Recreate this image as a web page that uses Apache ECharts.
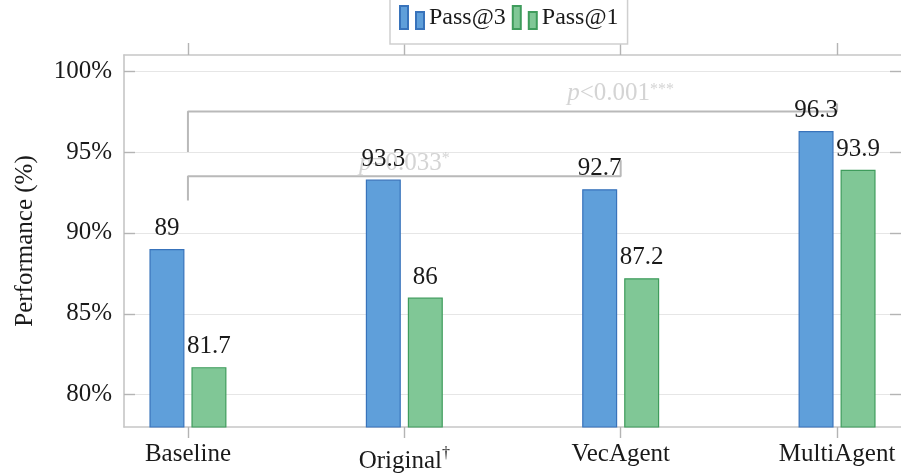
<!DOCTYPE html>
<html>
<head>
<meta charset="utf-8">
<script src="https://cdn.jsdelivr.net/npm/echarts@6/dist/echarts.min.js"></script>
<style>
  html, body { margin: 0; padding: 0; background: #ffffff; }
  #chart { width: 901px; height: 474px; }
</style>
</head>
<body>
<div id="chart"></div>
<script>
// Benchmark results per system
const categories = ['Baseline', 'Original', 'VecAgent', 'MultiAgent'];
const categoryMarks = ['', '†', '', ''];
const pass3 = [89, 93.3, 92.7, 96.3];
const pass1 = [81.7, 86, 87.2, 93.9];
const seriesNames = ['Pass@3', 'Pass@1'];
const yTicks = [80, 85, 90, 95, 100];
const xTicks = [0, 1, 2, 3];

// Significance brackets, as [category index, performance] points
const bracketNear = [[0, 92.0], [0, 93.5], [2, 93.5], [2, 94.5]];
const bracketFar = [[0, 95.0], [0, 97.5], [3, 97.5], [3, 98.0]];
const noteSpots = [[1, 94.3], [2, 98.6]];
const noteRelations = ['=0.033', '<0.001'];
const noteStars = ['*', '***'];

const SERIF = '"Liberation Serif", "DejaVu Serif", serif';
const FRAME = '#c6c6c6';
const TICK = '#b4b4b4';
const BRACKET = '#b9b9b9';

const chart = echarts.init(document.getElementById('chart'), null, { renderer: 'canvas' });

const xRange = { min: -0.2955, max: 3.2955 };

const legendIcon = 'path://M0,0h8v23h-8z M16,6h8v17h-8z';

const barLabel = {
  show: true,
  position: 'top',
  distance: 8,
  fontFamily: SERIF,
  fontSize: 25,
  color: '#1a1a1a',
  formatter: p => String(p.value[1])
};

chart.setOption({
  animation: false,
  backgroundColor: '#ffffff',
  textStyle: { fontFamily: SERIF },
  grid: { left: 124, top: 55, width: 778, height: 372, containLabel: false },
  legend: {
    data: seriesNames,
    left: 390,
    top: -9,
    padding: [14, 9, 14, 9],
    itemWidth: 24,
    itemHeight: 23,
    itemGap: 6,
    icon: legendIcon,
    borderColor: '#cfcfcf',
    borderWidth: 1.5,
    backgroundColor: '#ffffff',
    textStyle: { fontFamily: SERIF, fontSize: 24, color: '#1a1a1a' }
  },
  xAxis: [
    {
      type: 'value',
      position: 'bottom',
      min: xRange.min,
      max: xRange.max,
      axisLine: { show: true, onZero: false, lineStyle: { color: FRAME, width: 1.6 } },
      axisTick: { show: true, inside: false, length: 11, customValues: xTicks, lineStyle: { color: TICK, width: 1.4 } },
      axisLabel: {
        show: true,
        customValues: xTicks,
        margin: 15,
        fontFamily: SERIF,
        fontSize: 25,
        color: '#1a1a1a',
        formatter: v => {
          const i = Math.round(v);
          if (categoryMarks[i]) return '{o|' + categories[i] + '}{d|' + categoryMarks[i] + '}';
          return categories[i];
        },
        rich: {
          o: { fontFamily: SERIF, fontSize: 25, color: '#1a1a1a', padding: [7, 0, 0, 0] },
          d: { fontFamily: SERIF, fontSize: 16, color: '#1a1a1a', verticalAlign: 'top', padding: [4, 0, 0, 0] }
        }
      },
      splitLine: { show: false }
    },
    {
      type: 'value',
      position: 'top',
      min: xRange.min,
      max: xRange.max,
      axisLine: { show: true, onZero: false, lineStyle: { color: FRAME, width: 1.6 } },
      axisTick: { show: true, inside: false, length: 12, customValues: xTicks, lineStyle: { color: TICK, width: 1.4 } },
      axisLabel: { show: false },
      splitLine: { show: false }
    }
  ],
  yAxis: [
    {
      type: 'value',
      position: 'left',
      min: 78,
      max: 101,
      name: 'Performance (%)',
      nameLocation: 'middle',
      nameGap: 86,
      nameTextStyle: { fontFamily: SERIF, fontSize: 25, color: '#1a1a1a' },
      axisLine: { show: true, onZero: false, lineStyle: { color: FRAME, width: 1.6 } },
      axisTick: { show: true, inside: true, length: 11, customValues: yTicks, lineStyle: { color: TICK, width: 1.4 } },
      axisLabel: {
        show: true,
        customValues: yTicks,
        margin: 12,
        fontFamily: SERIF,
        fontSize: 25,
        color: '#1a1a1a',
        formatter: v => v + '%'
      },
      splitLine: { show: true, lineStyle: { color: '#e6e6e6', width: 1.2 } }
    },
    {
      type: 'value',
      position: 'right',
      min: 78,
      max: 101,
      axisLine: { show: true, onZero: false, lineStyle: { color: 'rgba(0,0,0,0)', width: 0 } },
      axisTick: { show: true, inside: true, length: 11, customValues: yTicks, lineStyle: { color: TICK, width: 1.4 } },
      axisLabel: { show: false },
      splitLine: { show: false }
    }
  ],
  series: [
    {
      name: 'bracket-near',
      type: 'line',
      xAxisIndex: 0,
      yAxisIndex: 0,
      data: bracketNear,
      showSymbol: false,
      symbol: 'none',
      silent: true,
      z: 1,
      lineStyle: { color: BRACKET, width: 2 }
    },
    {
      name: 'bracket-far',
      type: 'line',
      xAxisIndex: 0,
      yAxisIndex: 0,
      data: bracketFar,
      showSymbol: false,
      symbol: 'none',
      silent: true,
      z: 1,
      lineStyle: { color: BRACKET, width: 2 }
    },
    {
      name: 'notes',
      type: 'scatter',
      xAxisIndex: 0,
      yAxisIndex: 0,
      data: noteSpots,
      symbolSize: 1,
      silent: true,
      z: 1,
      itemStyle: { color: 'rgba(0,0,0,0)' },
      label: {
        show: true,
        position: 'inside',
        formatter: p => '{i|p}{t|' + noteRelations[p.dataIndex] + '}{s|' + noteStars[p.dataIndex] + '}',
        rich: {
          i: { fontFamily: SERIF, fontStyle: 'italic', fontSize: 25, color: '#c9c9c9' },
          t: { fontFamily: SERIF, fontSize: 25, color: '#c9c9c9' },
          s: { fontFamily: SERIF, fontSize: 16, color: '#c9c9c9', verticalAlign: 'top' }
        }
      }
    },
    {
      name: seriesNames[0],
      type: 'bar',
      xAxisIndex: 0,
      yAxisIndex: 0,
      data: pass3.map((v, i) => [i, v]),
      barWidth: 35,
      barGap: '20%',
      z: 3,
      itemStyle: { color: '#5f9fda', borderColor: '#3873bb', borderWidth: 1.2 },
      label: barLabel
    },
    {
      name: seriesNames[1],
      type: 'bar',
      xAxisIndex: 0,
      yAxisIndex: 0,
      data: pass1.map((v, i) => [i, v]),
      barWidth: 35,
      barGap: '20%',
      z: 3,
      itemStyle: { color: '#80c796', borderColor: '#3f9c5c', borderWidth: 1.2 },
      label: barLabel
    }
  ]
});
</script>
</body>
</html>
